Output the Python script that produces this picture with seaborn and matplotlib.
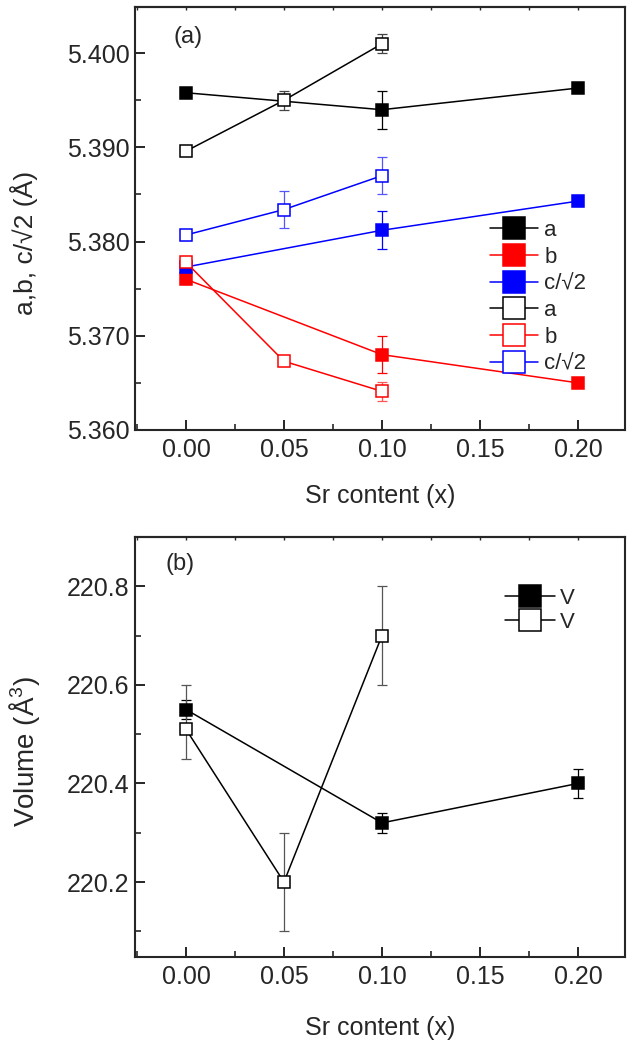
import numpy as np
import matplotlib
matplotlib.use("Agg")
import matplotlib.pyplot as plt
import seaborn as sns
from matplotlib.ticker import MultipleLocator

# lattice parameters, filled = series 1, open = series 2
x_full = [0.00, 0.10, 0.20]
x_open = [0.00, 0.05, 0.10]

a_full = [5.3958, 5.3940, 5.3963]
a_full_err = [0.0005, 0.0020, 0.0003]
b_full = [5.3760, 5.3680, 5.3650]
b_full_err = [0.0005, 0.0020, 0.0003]
c_full = [5.3773, 5.3812, 5.3843]
c_full_err = [0.0005, 0.0020, 0.0005]

a_open = [5.3896, 5.3950, 5.4010]
a_open_err = [0.0003, 0.0010, 0.0010]
b_open = [5.3778, 5.3673, 5.3641]
b_open_err = [0.0005, 0.0005, 0.0010]
c_open = [5.3807, 5.3834, 5.3870]
c_open_err = [0.0005, 0.0020, 0.0020]

# volume
v_full = [220.55, 220.32, 220.40]
v_full_err = [0.02, 0.02, 0.03]
v_open = [220.51, 220.20, 220.70]
v_open_lo = [0.06, 0.10, 0.10]
v_open_hi = [0.09, 0.10, 0.10]

xticks = [0.00, 0.05, 0.10, 0.15, 0.20]
xticklabels = ['0.00', '0.05', '0.10', '0.15', '0.20']

sns.set_style("ticks")
plt.rcParams['font.family'] = ['Liberation Sans', 'DejaVu Sans']
plt.rcParams['mathtext.fontset'] = 'custom'
plt.rcParams['mathtext.rm'] = 'Liberation Sans'

fig = plt.figure(figsize=(6.32, 10.5), dpi=100)
ax1 = fig.add_axes([0.2136, 0.5905, 0.7754, 0.4028])
ax2 = fig.add_axes([0.2136, 0.0886, 0.7754, 0.4000])

ms = 8.5


def draw(ax, x, y, err, color, filled, label, ecolor=None):
    ax.errorbar(x, y, yerr=err, fmt='none', ecolor=ecolor or color, elinewidth=0.9,
                capsize=3.8, capthick=0.9, zorder=2)
    sns.lineplot(x=x, y=y, ax=ax, color=color, lw=1.1, marker='s', markersize=ms,
                 markerfacecolor=color if filled else 'white', markeredgecolor=color,
                 markeredgewidth=1.1, sort=False, label=label, zorder=3)


draw(ax1, x_full, a_full, a_full_err, 'black', True, 'a')
draw(ax1, x_full, b_full, b_full_err, 'red', True, 'b')
draw(ax1, x_full, c_full, c_full_err, 'blue', True, 'c/\u221a2')
draw(ax1, x_open, a_open, a_open_err, 'black', False, 'a', ecolor='#444444')
draw(ax1, x_open, b_open, b_open_err, 'red', False, 'b', ecolor='#ff5555')
draw(ax1, x_open, c_open, c_open_err, 'blue', False, 'c/\u221a2', ecolor='#5555ff')

draw(ax2, x_full, v_full, v_full_err, 'black', True, 'V')
draw(ax2, x_open, v_open, [v_open_lo, v_open_hi], 'black', False, 'V', ecolor='#555555')

ax1.yaxis.set_major_locator(MultipleLocator(0.010))
ax1.yaxis.set_minor_locator(MultipleLocator(0.005))
ax1.yaxis.set_major_formatter(matplotlib.ticker.FormatStrFormatter('%.3f'))
ax1.set_ylim(5.360, 5.4049)
ax1.set_ylabel("a,b, c/\u221a2 (\u00c5)", fontsize=19)
ax1.yaxis.set_label_coords(-0.198, 0.442)
ax1.xaxis.set_label_coords(0.5, -0.128)

ax2.yaxis.set_major_locator(MultipleLocator(0.2))
ax2.yaxis.set_minor_locator(MultipleLocator(0.1))
ax2.set_ylim(220.048, 220.9)
ax2.set_ylabel("Volume ($\\mathregular{\u00c5^3}$)", fontsize=20)
ax2.yaxis.set_label_coords(-0.19, 0.49)
ax2.xaxis.set_label_coords(0.5, -0.140)

for ax, tag, tx, ty in [(ax1, '(a)', 0.078, 0.955), (ax2, '(b)', 0.063, 0.962)]:
    ax.set_xlim(-0.026, 0.224)
    ax.set_xticks(xticks)
    ax.set_xticklabels(xticklabels)
    ax.xaxis.set_minor_locator(MultipleLocator(0.025))
    ax.set_xlabel("Sr content (x)", fontsize=18)
    ax.tick_params(which='major', direction='in', length=7, width=1.4, labelsize=18,
                   top=False, right=False)
    ax.tick_params(axis='x', which='major', pad=6)
    ax.tick_params(axis='y', which='major', pad=4)
    ax.tick_params(which='minor', direction='in', length=4, width=1.2, top=False, right=False)
    for s in ax.spines.values():
        s.set_linewidth(1.5)
    top = ax.secondary_xaxis('top')
    top.set_xticks(xticks)
    top.xaxis.set_minor_locator(MultipleLocator(0.025))
    top.tick_params(which='both', direction='in', length=2, width=1.0, labeltop=False)
    top.spines['top'].set_linewidth(1.5)
    ax.text(tx, ty, tag, transform=ax.transAxes, fontsize=17, va='top', ha='left')

ax1.legend(loc='upper left', bbox_to_anchor=(0.724, 0.497), frameon=False, fontsize=16,
           handlelength=2.16, markerscale=1.9, labelspacing=0.26, handletextpad=0.3,
           borderaxespad=0, borderpad=0)
ax2.legend(loc='upper left', bbox_to_anchor=(0.755, 0.878), frameon=False, fontsize=16,
           handlelength=2.25, markerscale=1.8, labelspacing=0.12, handletextpad=0.2,
           borderaxespad=0, borderpad=0)

fig.savefig("out.png", dpi=100)
